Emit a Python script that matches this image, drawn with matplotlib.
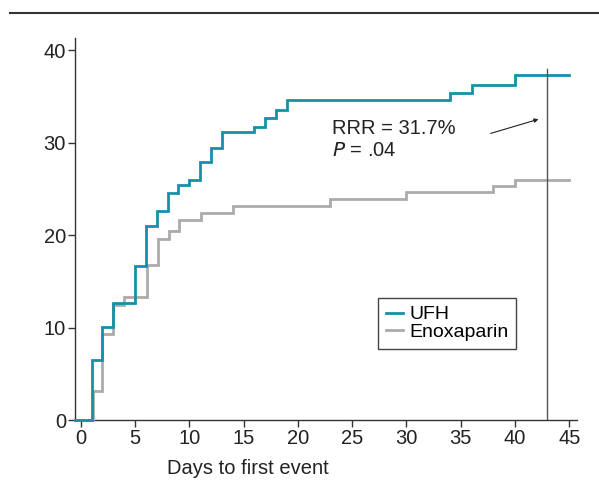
import matplotlib
matplotlib.use("Agg")
import matplotlib.pyplot as plt
from matplotlib.lines import Line2D

plt.rcParams['font.family'] = ['Liberation Sans', 'DejaVu Sans']

# Data (step curves: day of change, value after change)
ufh_days = [-0.5, 1, 2, 3, 5, 6, 7, 8, 9, 10, 11, 12, 13, 16, 17, 18, 19, 34, 36, 40, 45]
ufh_vals = [0, 6.5, 10.1, 12.7, 16.7, 21.0, 22.6, 24.5, 25.4, 26.0, 27.9, 29.4, 31.1, 31.7, 32.7, 33.5, 34.6, 35.4, 36.2, 37.3, 37.3]

enox_days = [-0.5, 1.15, 2, 3, 4, 6.1, 7.1, 8.1, 9.1, 11.1, 14, 23, 30, 38, 40, 45]
enox_vals = [0, 3.1, 9.3, 12.4, 13.3, 16.8, 19.6, 20.4, 21.6, 22.4, 23.1, 23.9, 24.6, 25.3, 25.9, 25.9]

x_ticks = [0, 5, 10, 15, 20, 25, 30, 35, 40, 45]
y_ticks = [0, 10, 20, 30, 40]
series_names = ["UFH", "Enoxaparin"]
rrr_text = "RRR = 31.7%"
p_text = "$P$ = .04"
xlabel = "Days to first event"
cutoff_day = 42.9
cutoff_top = 38.0

teal = '#1590a9'
grey = '#ababae'
dark = '#333333'
FS = 14.5

W, H = 599, 492
fig = plt.figure(figsize=(W / 100, H / 100), dpi=100)
ax = fig.add_axes([75 / W, 72 / H, 502 / W, 382 / H])

ax.step(enox_days, enox_vals, where='post', color=grey, lw=2.0, zorder=2,
        solid_joinstyle='miter', clip_on=False)
ax.step(ufh_days, ufh_vals, where='post', color=teal, lw=2.0, zorder=3,
        solid_joinstyle='miter', clip_on=False)
ax.plot([cutoff_day, cutoff_day], [0, cutoff_top], color='#555555', lw=1.0, zorder=4)

ax.set_xlim(-0.52, 45.7)
ax.set_ylim(0, 41.3)
ax.set_xticks(x_ticks)
ax.set_yticks(y_ticks)
ax.tick_params(axis='both', direction='out', length=5, width=1, color=dark,
               labelsize=FS, labelcolor='#222222', pad=1.5)
for s in ['top', 'right']:
    ax.spines[s].set_visible(False)
for s in ['left', 'bottom']:
    ax.spines[s].set_color(dark)
    ax.spines[s].set_linewidth(1.0)
    ax.spines[s].set_zorder(1)

# annotation
fig.text(332 / W, 1 - 129 / H, rrr_text, fontsize=FS, color='#222222', va='center', ha='left')
fig.text(332 / W, 1 - 151 / H, p_text, fontsize=FS, color='#222222', va='center', ha='left')
ax.annotate('', xy=(42.4, 32.6), xytext=(37.5, 30.9),
            arrowprops=dict(arrowstyle='-|>', color='#222222', lw=0.8, mutation_scale=6))

# x label
fig.text(167 / W, 1 - 468 / H, xlabel, fontsize=FS, color='#222222', va='center', ha='left')

# legend
handles = [Line2D([0], [0], color=teal, lw=2.0), Line2D([0], [0], color=grey, lw=2.0)]
leg = fig.legend(handles, series_names, loc='upper left', bbox_to_anchor=(378 / W, 1 - 298 / H),
                 fontsize=14, handlelength=0.9, handletextpad=0.3, labelspacing=0.0,
                 borderpad=0.4, borderaxespad=0, fancybox=False, framealpha=1)
leg.get_frame().set_edgecolor('#444444')
leg.get_frame().set_linewidth(1.0)

# header rule at top
fig.add_artist(Line2D([10 / W, 1.0], [1 - 13 / H, 1 - 13 / H], color='#333333', lw=1.5))

fig.savefig('out.png', dpi=100)
